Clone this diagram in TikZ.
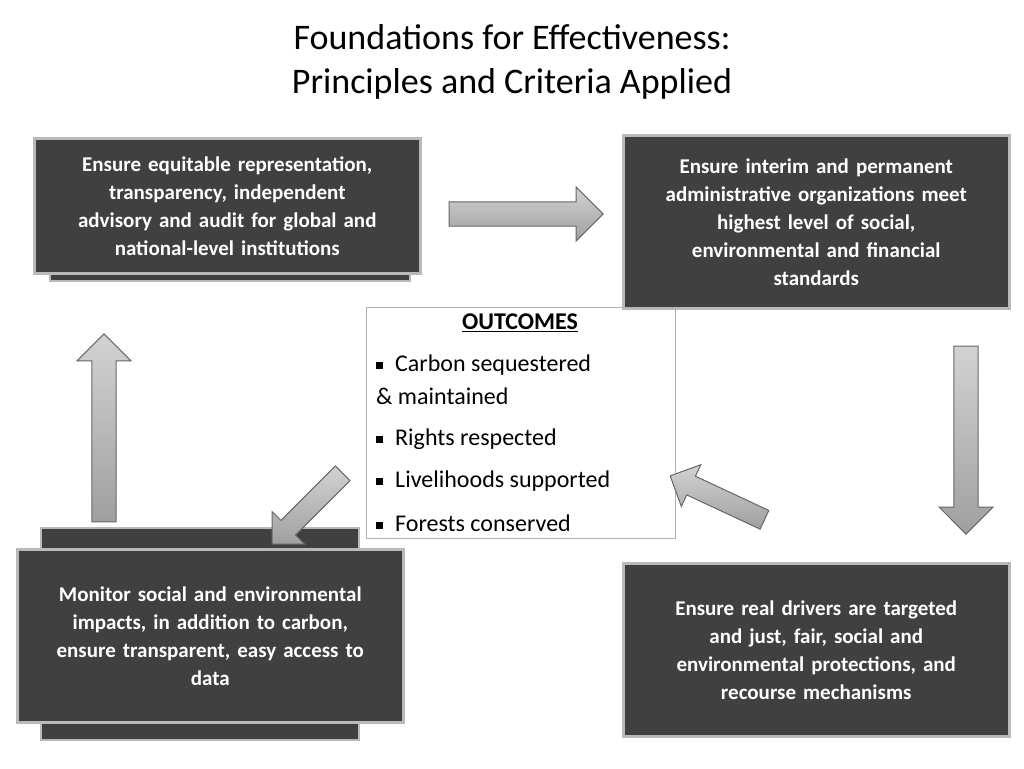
\documentclass[tikz,border=0pt]{standalone}
\usepackage{fontspec}
\setmainfont{Carlito}
\usetikzlibrary{shapes.arrows}
\tikzset{
  box/.style = {draw=gray!55, line width=2.5pt, fill=black!75, text=white,
    font=\fontsize{21}{28}\selectfont\bfseries, align=center, inner sep=4pt,
    minimum width=386pt, drop shadow/.style={}},
  backbox/.style = {draw=gray!55, line width=2pt, fill=black!75},
  arr/.style = {single arrow, draw=black!60, line width=1pt,
    top color=gray!35, bottom color=gray!75, shading angle=0,
    minimum width=46pt, single arrow head extend=8pt, inner sep=6pt},
  item/.style = {font=\fontsize{24}{30}\selectfont}
}
\newcommand{\sqb}{\rule[2pt]{7pt}{7pt}\hspace{12pt}}
\begin{document}
\begin{tikzpicture}[x=1pt, y=-1pt]
  \useasboundingbox (0,0) rectangle (1024,768);
  % title
  \node (title) at (512,62) [font=\fontsize{36}{44}\selectfont, align=center]
    {Foundations for Effectiveness:\\Principles and Criteria Applied};
  % boxes
  \draw[backbox] (50,262) rectangle (410,281);
  \node[box, minimum height=135pt, text width=370pt, anchor=north west] (tl) at (33,137)
    {Ensure equitable representation,\\ transparency, independent\\ advisory and audit for global and\\ national-level institutions\\[14pt]};
  \node[box, minimum height=173pt, text width=370pt, anchor=north west] (tr) at (622,134)
    {Ensure interim and permanent\\ administrative organizations meet\\ highest level of social,\\ environmental and financial\\ standards};
  \node[box, minimum height=173pt, text width=370pt, anchor=north west] (br) at (622,562)
    {Ensure real drivers are targeted\\ and just, fair, social and\\ environmental protections, and\\ recourse mechanisms};
  \draw[backbox] (41,528) rectangle (359,740);
  \node[box, minimum height=173pt, text width=370pt, anchor=north west] (bl) at (16,548)
    {Monitor social and environmental\\ impacts, in addition to carbon,\\ ensure transparent, easy access to\\ data\\[22pt]};
  % outcomes
  \draw[gray!60] (366,307) rectangle (675,538);
  \node (outh) at (520,323) [item, font=\fontsize{24}{30}\selectfont\bfseries] {\underline{OUTCOMES}};
  \node (o1) at (376,365) [item, anchor=west, inner sep=0pt] {\sqb Carbon sequestered};
  \node (o1b) at (376,396) [item, anchor=west, inner sep=0pt] {\& maintained};
  \node (o2) at (376,439) [item, anchor=west, inner sep=0pt] {\sqb Rights respected};
  \node (o3) at (376,481) [item, anchor=west, inner sep=0pt] {\sqb Livelihoods supported};
  \node (o4) at (376,523) [item, anchor=west, inner sep=0pt] {\sqb Forests conserved};
  % arrows
  \node[arr, minimum height=154pt, minimum width=54pt] (a1) at (520,214) {};
  \node[arr, minimum height=188pt, rotate=-90, minimum width=54pt] (a2) at (966,434) {};
  \node[arr, minimum height=104pt, rotate=155] (a3) at (722,500) {};
  \node[arr, minimum height=100pt, rotate=-135] (a4) at (311,505) {};
  \node[arr, minimum height=188pt, rotate=90, minimum width=54pt] (a5) at (104,434) {};
\end{tikzpicture}
\end{document}
